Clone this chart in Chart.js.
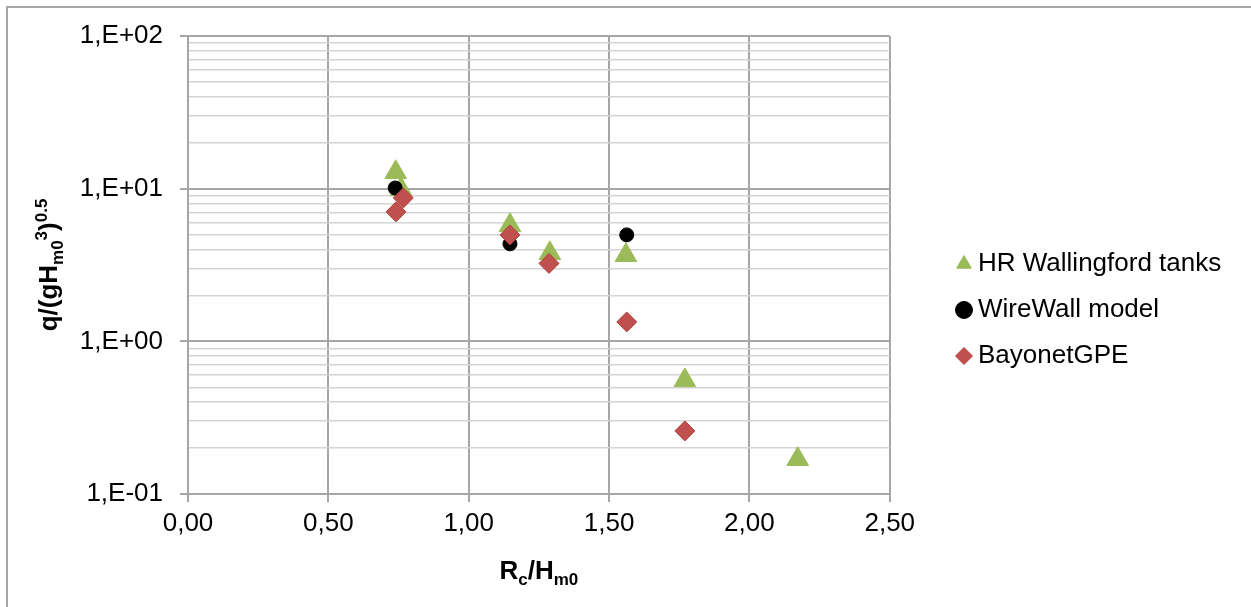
<!DOCTYPE html>
<html>
<head>
<meta charset="utf-8">
<script src="https://cdn.jsdelivr.net/npm/chart.js@4.4.1/dist/chart.umd.min.js"></script>
<style>
  body { margin: 0; background: #fff; }
  canvas { display: block; }
</style>
</head>
<body>
<canvas id="myChart" width="1251" height="607"></canvas>
<script>
// Rc/Hm0 and q/(g Hm0^3)^0.5
const hrX = [0.74, 0.759, 1.147, 1.289, 1.56, 1.77, 2.172];
const hrY = [12.8, 9.9, 5.75, 3.77, 3.66, 0.555, 0.169];

const wireX = [0.738, 1.147, 1.563];
const wireY = [10.1, 4.35, 4.98];

const bayX = [0.741, 0.767, 1.147, 1.286, 1.563, 1.77];
const bayY = [7.05, 8.7, 4.98, 3.24, 1.34, 0.259];

const seriesNames = ["HR Wallingford tanks", "WireWall model", "BayonetGPE"];

function pts(xs, ys) {
  return xs.map((x, i) => ({ x: x, y: ys[i] }));
}

function isDecade(v) {
  const l = Math.log10(v);
  return Math.abs(l - Math.round(l)) < 1e-9;
}

const FONT = "'Liberation Sans', Arial, sans-serif";
const GRID = "#a6a6a6";
const MINOR = "#d4d4d4";

// axis titles with sub/superscripts
function drawRuns(ctx, runs, cx, baseline) {
  const big = "bold 26px " + FONT;
  const small = "bold 17px " + FONT;
  let total = 0;
  runs.forEach(r => {
    ctx.font = r[1] ? small : big;
    total += ctx.measureText(r[0]).width;
  });
  let x = cx - total / 2;
  runs.forEach(r => {
    ctx.font = r[1] ? small : big;
    const dy = r[1] === 1 ? 6 : r[1] === 2 ? -10 : 0;
    ctx.fillText(r[0], x, baseline + dy);
    x += ctx.measureText(r[0]).width;
  });
}

const decor = {
  id: "decor",
  afterLayout(chart) {
    const lg = chart.legend;
    const dx = 943 - lg.left;
    lg.left += dx; lg.right += dx;
    lg.top += 15; lg.bottom += 15;
  },
  beforeDraw(chart) {
    const ctx = chart.ctx;
    ctx.save();
    ctx.strokeStyle = GRID;
    ctx.lineWidth = 2;
    ctx.strokeRect(7, 7, 1400, 800);
    ctx.restore();
  },
  afterDraw(chart) {
    const ctx = chart.ctx;
    const a = chart.chartArea;
    ctx.save();
    ctx.fillStyle = "#000";
    ctx.textBaseline = "alphabetic";
    drawRuns(ctx, [["R", 0], ["c", 1], ["/", 0], ["H", 0], ["m0", 1]], (a.left + a.right) / 2, 579);
    ctx.translate(57, (a.top + a.bottom) / 2);
    ctx.rotate(-Math.PI / 2);
    drawRuns(ctx, [["q/(gH", 0], ["m0", 1], ["3", 2], [")", 0], ["0.5", 2]], 0, 0);
    ctx.restore();
  }
};

const ctx = document.getElementById("myChart").getContext("2d");
new Chart(ctx, {
  type: "scatter",
  data: {
    datasets: [
      {
        label: seriesNames[0],
        data: pts(hrX, hrY),
        pointStyle: "triangle",
        pointRadius: 12.5,
        pointHoverRadius: 12.5,
        backgroundColor: "#9bbb59",
        borderColor: "#9bbb59",
        borderWidth: 1,
        order: 3,
      },
      {
        label: seriesNames[1],
        data: pts(wireX, wireY),
        pointStyle: "circle",
        pointRadius: 7,
        pointHoverRadius: 7,
        backgroundColor: "#000000",
        borderColor: "#000000",
        borderWidth: 1,
        order: 2,
      },
      {
        label: seriesNames[2],
        data: pts(bayX, bayY),
        pointStyle: "rectRot",
        pointRadius: 10,
        pointHoverRadius: 10,
        backgroundColor: "#c0504d",
        borderColor: "#b0403d",
        borderWidth: 1,
        order: 1,
      },
    ],
  },
  options: {
    responsive: false,
    animation: false,
    layout: { padding: { left: 0, top: 36, right: 73, bottom: 53 } },
    plugins: {
      tooltip: { enabled: false },
      legend: {
        position: "right",
        labels: {
          usePointStyle: true,
          boxWidth: 2,
          boxHeight: 12,
          padding: 20,
          color: "#000",
          font: { family: FONT, size: 26 },
          sort: (a, b) => a.datasetIndex - b.datasetIndex,
        },
      },
    },
    scales: {
      x: {
        type: "linear",
        min: 0,
        max: 2.5,
        afterFit: s => { s.height = 60; },
        ticks: {
          stepSize: 0.5,
          padding: 6,
          color: "#000",
          font: { family: FONT, size: 26 },
          callback: v => v.toFixed(2).replace(".", ","),
        },
        grid: { color: GRID, lineWidth: 2, tickLength: 8, tickColor: GRID },
        border: { color: GRID, width: 2 },
      },
      y: {
        type: "logarithmic",
        min: 0.1,
        max: 100,
        afterFit: s => { s.width = 188; },
        afterBuildTicks: s => {
          s.ticks = s.ticks.filter(t => {
            const m = t.value / Math.pow(10, Math.floor(Math.log10(t.value) + 1e-9));
            return Math.abs(m - Math.round(m)) < 1e-6;
          });
        },
        ticks: {
          autoSkip: false,
          padding: 17,
          color: "#000",
          font: { family: FONT, size: 26 },
          callback: v => {
            if (!isDecade(v)) return "";
            const e = Math.round(Math.log10(v));
            return "1,E" + (e < 0 ? "-" : "+") + String(Math.abs(e)).padStart(2, "0");
          },
        },
        grid: {
          color: c => (isDecade(c.tick.value) ? GRID : MINOR),
          lineWidth: c => (isDecade(c.tick.value) ? 2 : 1.5),
          tickLength: 8,
          tickColor: c => (isDecade(c.tick.value) ? GRID : "rgba(0,0,0,0)"),
        },
        border: { color: GRID, width: 2 },
      },
    },
  },
  plugins: [decor],
});
</script>
</body>
</html>
